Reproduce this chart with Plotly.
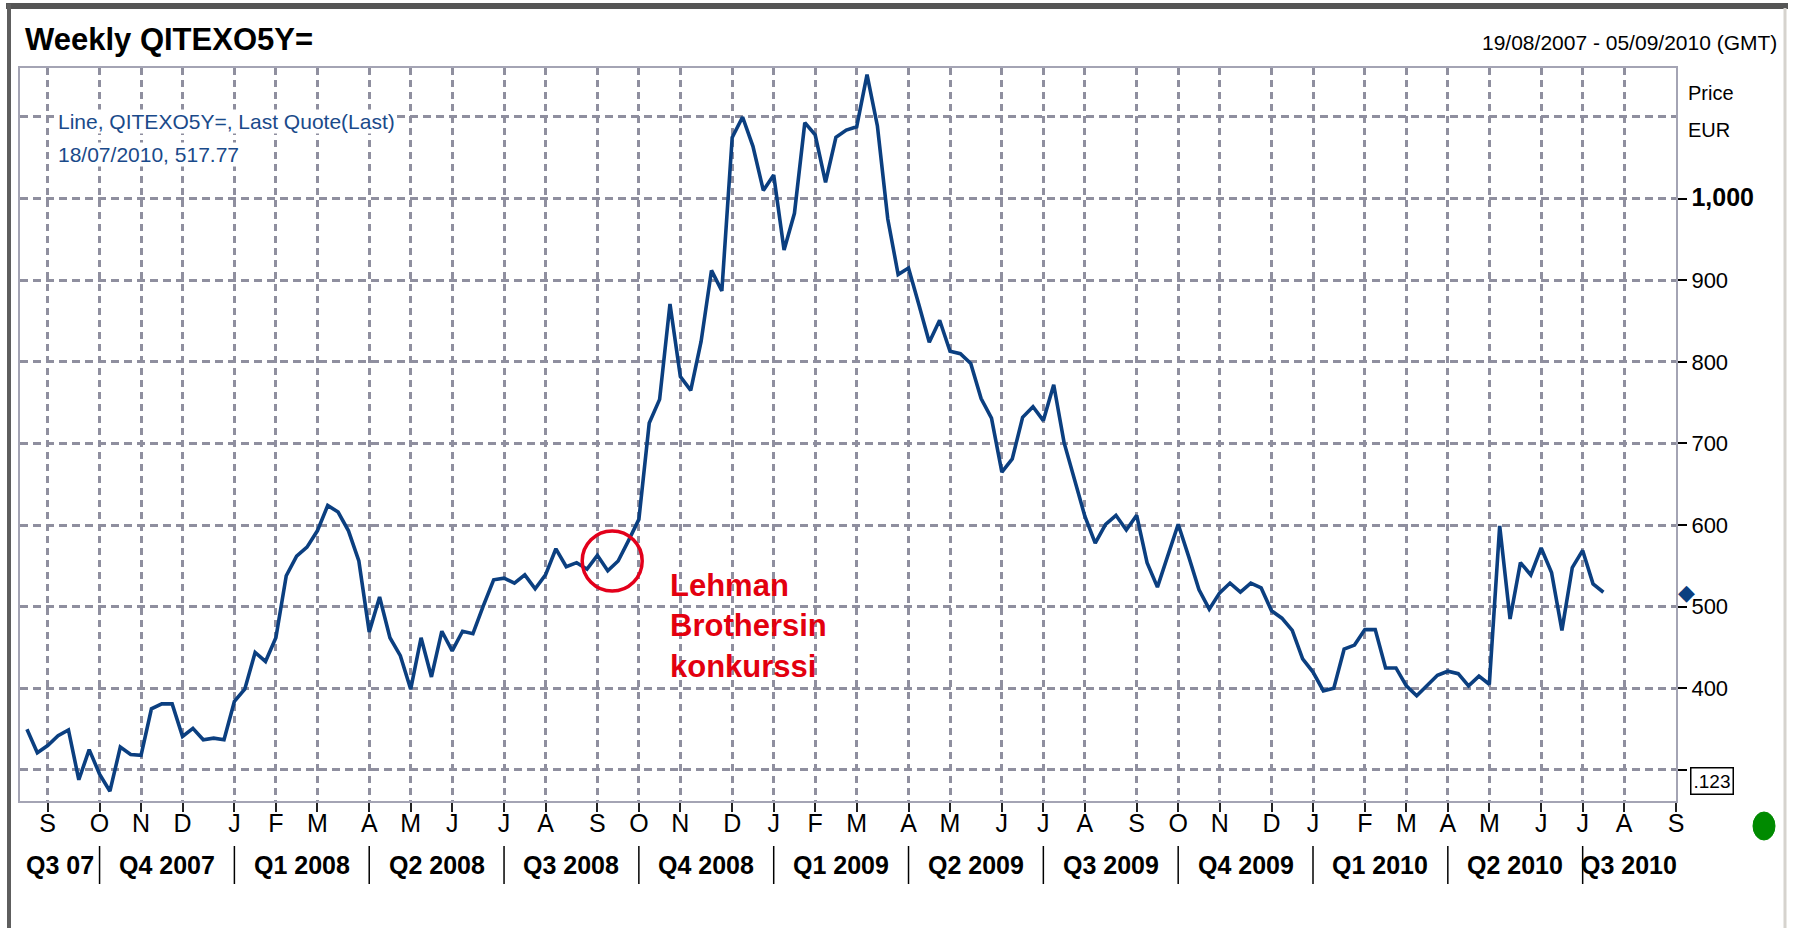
import pandas as pd
import plotly.graph_objects as go

# Weekly closes, first week 19/08/2007, last 18/07/2010
START_DATE = "2007-08-19"
RANGE_END = "2010-09-05"
PRICES = [
    350, 321, 330, 342, 349, 288, 325, 295, 274, 328,
    319, 318, 375, 381, 381, 341, 351, 337, 339, 337,
    384, 399, 444, 433, 462, 538, 562, 573, 593, 624,
    616, 593, 556, 469, 512, 462, 440, 399, 462, 414,
    470, 446, 470, 467, 501, 533, 535, 529, 539, 522,
    539, 571, 549, 554, 546, 563, 544, 556, 581, 607,
    725, 754, 871, 782, 765, 825, 912, 887, 1075, 1100,
    1064, 1010, 1029, 937, 982, 1093, 1078, 1020, 1075, 1084,
    1088, 1152, 1089, 975, 907, 915, 870, 824, 851, 813,
    810, 798, 755, 731, 665, 681, 732, 745, 728, 772,
    701, 655, 611, 578, 601, 612, 594, 612, 554, 524,
    563, 601, 562, 521, 497, 517, 529, 518, 529, 523,
    495, 486, 471, 436, 420, 397, 400, 448, 453, 472,
    472, 425, 425, 403, 391, 403, 416, 421, 418, 403,
    415, 405, 599, 485, 554, 539, 572, 542, 471, 548,
    569, 528, 517.77,
]
QUARTER_LABELS = [
    "Q3 07", "Q4 2007", "Q1 2008", "Q2 2008", "Q3 2008", "Q4 2008", "Q1 2009",
    "Q2 2009", "Q3 2009", "Q4 2009", "Q1 2010", "Q2 2010", "Q3 2010",
]
PRICE_TICKS = [300, 400, 500, 600, 700, 800, 900, 1000]
PRICE_TICK_TEXT = ["", "400", "500", "600", "700", "800", "900",
                   '<span style="font-size:25px"><b>1,000</b></span>']
LEHMAN_DATE = "2008-09-17"
LEHMAN_LEVEL = 556

FONT = "Liberation Sans, Arial, sans-serif"
LINE_BLUE = "#0b3f80"
GRID = "#8f8f9f"

# plot area in page pixels
L, R, T, B = 20, 1676, 68, 801


def px(x):
    return (x - L) / (R - L)


def py(y):
    return (B - y) / (B - T)


dates = pd.date_range(START_DATE, periods=len(PRICES), freq="7D")
weeks = pd.date_range(START_DATE, RANGE_END, freq="7D")
x_start = pd.Timestamp(START_DATE) - pd.Timedelta(days=4.7)
x_end = pd.Timestamp(RANGE_END)

# month ticks sit on the first weekly point of each month
month_ticks = [d for k, d in enumerate(weeks) if k > 0 and d.month != weeks[k - 1].month]
month_text = [d.strftime("%b")[0] for d in month_ticks]
quarter_starts = [d for d in month_ticks if d.month in (1, 4, 7, 10)]
bounds = [x_start] + quarter_starts + [x_end]

fig = go.Figure()

fig.add_trace(
    go.Scatter(
        x=dates,
        y=PRICES,
        mode="lines",
        line=dict(color=LINE_BLUE, width=3.6),
        hoverinfo="skip",
    )
)

# last-value marker sitting on the price axis
fig.add_annotation(
    x=px(1686), y=PRICES[-1], xref="paper", yref="y",
    xanchor="center", yanchor="middle", showarrow=False,
    text="\u25c6", font=dict(family="DejaVu Sans", size=22, color=LINE_BLUE),
)

# Lehman circle
fig.add_shape(
    type="circle",
    xref="x",
    yref="y",
    xsizemode="pixel",
    ysizemode="pixel",
    xanchor=LEHMAN_DATE,
    yanchor=LEHMAN_LEVEL,
    x0=-30,
    x1=30,
    y0=-30,
    y1=30,
    line=dict(color="#e3001b", width=3.5),
)
fig.add_annotation(
    x=px(668),
    y=py(566),
    xref="paper",
    yref="paper",
    xanchor="left",
    yanchor="top",
    align="left",
    showarrow=False,
    text="Lehman<br>Brothersin<br>konkurssi",
    font=dict(family=FONT, size=31, color="#e3000f", weight="bold"),
)

# quarter row under the month letters
for lab, a, b in zip(QUARTER_LABELS, bounds[:-1], bounds[1:]):
    fig.add_annotation(
        x=a + (b - a) / 2,
        y=py(881),
        xref="x",
        yref="paper",
        showarrow=False,
        text=lab,
        font=dict(family=FONT, size=25, color="#000000", weight="bold"),
    )
for d in quarter_starts:
    fig.add_shape(
        type="line",
        xref="x",
        yref="paper",
        x0=d,
        x1=d,
        y0=py(846),
        y1=py(884),
        line=dict(color="#000000", width=1.5),
    )

# header texts
fig.add_annotation(
    x=px(23), y=py(39), xref="paper", yref="paper",
    xanchor="left", yanchor="middle", showarrow=False,
    text="Weekly QITEXO5Y=",
    font=dict(family=FONT, size=31, color="#000000", weight="bold"),
)
fig.add_annotation(
    x=px(1779), y=py(43), xref="paper", yref="paper",
    xanchor="right", yanchor="middle", showarrow=False,
    text=f"{dates[0]:%d/%m/%Y} - {x_end:%d/%m/%Y} (GMT)",
    font=dict(family=FONT, size=21, color="#000000"),
)
fig.add_annotation(
    x=px(57), y=py(122), xref="paper", yref="paper",
    xanchor="left", yanchor="middle", showarrow=False,
    text="Line, QITEXO5Y=, Last Quote(Last)",
    font=dict(family=FONT, size=21, color="#1a4a8a"),
    bgcolor="#ffffff", borderpad=0,
)
fig.add_annotation(
    x=px(57), y=py(154), xref="paper", yref="paper",
    xanchor="left", yanchor="middle", showarrow=False,
    text=f"{dates[-1]:%d/%m/%Y}, {PRICES[-1]:.2f}",
    font=dict(family=FONT, size=21, color="#1a4a8a"),
    bgcolor="#ffffff", borderpad=0,
)
fig.add_annotation(
    x=px(1686), y=py(93), xref="paper", yref="paper",
    xanchor="left", yanchor="middle", showarrow=False,
    text="Price", font=dict(family=FONT, size=20, color="#000000"),
)
fig.add_annotation(
    x=px(1686), y=py(130), xref="paper", yref="paper",
    xanchor="left", yanchor="middle", showarrow=False,
    text="EUR", font=dict(family=FONT, size=20, color="#000000"),
)
fig.add_annotation(
    x=px(1690), y=py(767), xref="paper", yref="paper",
    xanchor="left", yanchor="top", showarrow=False,
    text=".123", font=dict(family=FONT, size=19, color="#000000"),
    bordercolor="#000000", borderwidth=1.5, borderpad=2,
)

# page frame and status dot
fig.add_shape(type="line", xref="paper", yref="paper",
              x0=px(6), x1=px(1788), y0=py(6), y1=py(6),
              line=dict(color="#555555", width=6))
fig.add_shape(type="line", xref="paper", yref="paper",
              x0=px(9), x1=px(9), y0=py(4), y1=py(930),
              line=dict(color="#5e5e5e", width=4))
fig.add_shape(type="line", xref="paper", yref="paper",
              x0=px(1785), x1=px(1785), y0=py(8), y1=py(930),
              line=dict(color="#d6d3ce", width=3))
fig.add_shape(type="circle", xref="paper", yref="paper",
              xsizemode="pixel", ysizemode="pixel",
              xanchor=px(1764), yanchor=py(826),
              x0=-11, x1=11, y0=-14, y1=14,
              fillcolor="#008a00", line=dict(color="#008a00", width=1))

fig.update_layout(
    width=1794,
    height=928,
    margin=dict(l=L, r=1794 - R, t=T, b=928 - B),
    paper_bgcolor="#ffffff",
    plot_bgcolor="#ffffff",
    showlegend=False,
    hovermode=False,
)
fig.update_xaxes(
    type="date",
    range=[x_start, x_end],
    tickmode="array",
    tickvals=month_ticks,
    ticktext=month_text,
    tickfont=dict(family=FONT, size=25, color="#000000"),
    ticklabelstandoff=-10,
    ticks="outside",
    ticklen=9,
    tickwidth=1.5,
    tickcolor="#222222",
    showgrid=True,
    gridcolor=GRID,
    gridwidth=3,
    griddash="7px,5px",
    showline=True,
    mirror=True,
    linecolor="#a4a4b4",
    linewidth=2,
    zeroline=False,
)
fig.update_yaxes(
    side="right",
    range=[262, 1160],
    tickmode="array",
    tickvals=PRICE_TICKS,
    ticktext=PRICE_TICK_TEXT,
    tickfont=dict(family=FONT, size=22, color="#000000"),
    ticks="outside",
    ticklen=9,
    tickwidth=2,
    tickcolor="#000000",
    showgrid=True,
    gridcolor=GRID,
    gridwidth=3,
    griddash="8px,5px",
    minor=dict(tickmode="array", tickvals=[1100], showgrid=True, gridcolor=GRID,
               gridwidth=3, griddash="8px,5px", ticks=""),
    showline=True,
    mirror=True,
    linecolor="#a4a4b4",
    linewidth=2,
    zeroline=False,
)

# the page is photographed from its top-left corner: drop the default body margin
fig.write_html(
    "out.html",
    config={"displayModeBar": False},
    post_script="document.body.style.margin='0px';",
)
